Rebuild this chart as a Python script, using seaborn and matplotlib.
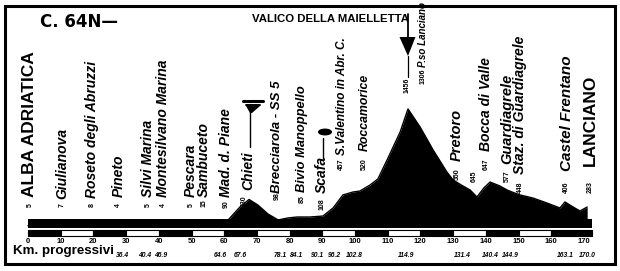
import matplotlib
matplotlib.use("Agg")
import matplotlib.pyplot as plt
import seaborn as sns
import pandas as pd
from matplotlib.patches import Circle, Polygon, Rectangle

# ---- route profile: distance (km) and altitude (m) ----
profile_km = [0, 10, 20, 28, 37, 41, 47, 54, 58, 61.2, 64.8, 67.6, 70.3, 73.4,
              76.5, 79.5, 82.3, 86.2, 90.2, 93.3, 96.3, 99.4, 101.5, 104.6, 107,
              109.8, 113.8, 116.2, 119.9, 123.9, 128.1, 130, 133, 135.2, 137.3,
              139.4, 141.3, 144.3, 146.5, 148, 150.5, 154.4, 158.7, 162.7, 164.2,
              166.7, 168.8, 171]
profile_alt = [5, 7, 8, 4, 5, 4, 5, 15, 40, 75, 236, 330, 261, 149,
               75, 100, 112, 112, 124, 224, 386, 423, 435, 510, 585,
               821, 1169, 1456, 1232, 945, 672, 572, 498, 448, 361,
               473, 547, 498, 448, 423, 386, 348, 286, 224, 299,
               236, 187, 236]

# ---- places along the route ----
place_names = ["ALBA ADRIATICA", "Giulianova", "Roseto degli Abruzzi", "Pineto",
               "Silvi Marina", "Montesilvano Marina", "Pescara", "Sambuceto",
               "Mad. d. Piane", "Chieti", "Brecciarola - SS 5", "Bivio Manoppello",
               "Scafa", "S.Valentino in Abr. C.", "Roccamorice", "P.so Lanciano",
               "Pretoro", "", "Bocca di Valle", "Guardiagrele",
               "Staz. di Guardiagrele", "Castel Frentano", "LANCIANO"]
place_alt = [5, 7, 8, 4, 5, 4, 5, 15, 90, 330, 98, 85, 108, 457, 520, 1306,
             550, 645, 647, 577, 448, 406, 283]
place_km = [0.6, 10.4, 19.6, 27.8, 36.7, 41.3, 49.8, 53.8, 60.6, 67.3, 76.1,
            83.8, 89.9, 96.0, 103.0, 120.8, 131.2, 136.4, 140.0, 146.5, 150.5,
            164.8, 171.9]

# summit
summit_name = "VALICO DELLA MAIELLETTA"
summit_km = 116.2
summit_alt = 1456

# distance scale and progressive distances
scale_km = [0, 10, 20, 30, 40, 50, 60, 70, 80, 90, 100, 110, 120, 130, 140,
            150, 160, 170]
progressive_km = [36.4, 40.4, 46.9, 64.6, 67.6, 78.1, 84.1, 90.1, 96.2, 102.8,
                  114.9, 131.4, 140.4, 144.9, 163.1, 170.0]

# ---- layout (pixel rows / columns of the drawing) ----
W, H = 620, 271
X0, PX_PER_KM = 28.0, 3.27        # x pixel of km 0, pixels per km
Y0, M_PER_PX = 226.0, 12.44       # y pixel of sea level, metres per pixel
num_base_px = [207, 207, 207, 207, 207, 207, 207, 207, 208, 207, 200, 203,
               210, 170, 170, 84, 180, 182, 170, 182, 193, 193, 193]
num_dx_px = [0, 0, 0, 0, 0, 0, 0, 0, 0, -4, 0, 0,
             0, 0, 0, 0, 0, 0, 0, 0, 0, 0, 0]
name_base_px = [197, 199, 198, 197, 197, 197, 197, 197, 197, 190, 193, 192,
                193, 155, 151, 67, 161, None, 151, 164, 174, 171, 166]
name_size = [12.5, 10, 10, 10, 10, 10, 10, 10, 10, 10, 9.5, 9.3,
             10, 8.5, 8.8, 7, 10.5, 10, 10, 10.5, 10, 11, 12.5]
progressive_x_px = [123, 145, 161, 220, 240, 280, 296, 317, 334, 354, 406,
                    462, 490, 510, 565, 587]


def alt_of(ypx):
    return (Y0 - ypx) * M_PER_PX


def km_of(xpx):
    return (xpx - X0) / PX_PER_KM


sns.set_theme(style="white")
plt.rcParams["font.family"] = ["Liberation Sans", "DejaVu Sans"]

fig = plt.figure(figsize=(W / 100, H / 100), dpi=100)
fig.patch.set_facecolor("white")
ax = fig.add_axes([0, 0, 1, 1])
ax.set_xlim(km_of(0), km_of(W))
ax.set_ylim(alt_of(H), alt_of(0))
ax.axis("off")

df = pd.DataFrame({"km": profile_km, "alt": profile_alt})

# profile silhouette
ax.fill_between(df["km"], 0, df["alt"], color="black", lw=0, zorder=2)
sns.lineplot(data=df, x="km", y="alt", color="black", lw=1.0, ax=ax, zorder=3)

# baseline bar
ax.add_patch(Rectangle((0, alt_of(228)), km_of(592), alt_of(219) - alt_of(228),
                       color="black", lw=0, zorder=3))
# chequered distance scale
sb, st = alt_of(236), alt_of(230)
for i, k in enumerate(scale_km[:-1]):
    ax.add_patch(Rectangle((k, sb), 10, st - sb,
                           facecolor="black" if i % 2 == 0 else "white",
                           edgecolor="black", lw=0.8, zorder=3))
ax.add_patch(Rectangle((170, sb), km_of(592) - 170, st - sb,
                       facecolor="black", edgecolor="black", lw=0.8, zorder=3))

for k in scale_km:
    ax.text(k, alt_of(241.5), str(k), ha="center", va="center", fontsize=5.5,
            fontweight="bold", color="black")

for v, xp in zip(progressive_km, progressive_x_px):
    ax.text(km_of(xp), alt_of(255.5), f"{v:.1f}", ha="center", va="center",
            fontsize=4.9, fontweight="bold", fontstyle="italic", color="black")

ax.text(km_of(13), alt_of(251), "Km. progressivi", ha="left", va="center",
        fontsize=9.6, fontweight="bold", color="black")

# place labels: altitude then name, reading upward
for name, alt, km, nb, dx, mb, fs in zip(place_names, place_alt, place_km,
                                         num_base_px, num_dx_px, name_base_px,
                                         name_size):
    ax.text(km + dx / PX_PER_KM, alt_of(nb), str(alt), rotation=90,
            ha="center", va="bottom", fontsize=5, fontweight="bold",
            color="black", zorder=4)
    if not name:
        continue
    big = name.isupper()
    ax.text(km, alt_of(mb), name, rotation=90, ha="center", va="bottom",
            fontsize=fs, fontweight="bold",
            fontstyle="normal" if big else "italic", color="black")

# summit arrow and name
ax.text(km_of(409), alt_of(18.5), summit_name, ha="right", va="center",
        fontsize=8.2, fontweight="bold", color="black")
ax.plot([summit_km, summit_km], [alt_of(14), alt_of(40)], color="black", lw=1.3)
ax.add_patch(Polygon([[km_of(399.5), alt_of(37)], [km_of(415.5), alt_of(37)],
                      [summit_km, alt_of(56)]], closed=True, color="black", lw=0))
ax.plot([summit_km, summit_km], [alt_of(56), alt_of(77)], color="black", lw=0.9)
ax.text(summit_km - 0.3, alt_of(93), str(summit_alt), rotation=90, ha="center",
        va="bottom", fontsize=5, fontweight="bold", color="black")

# sprint banner above Chieti
ck = km_of(250)
ax.plot([ck, ck], [alt_of(147), alt_of(104)], color="black", lw=1.0)
ax.plot([km_of(243), km_of(263)], [alt_of(100.5)] * 2, color="black", lw=2.2)
ax.plot([km_of(246), km_of(260)], [alt_of(104.5)] * 2, color="black", lw=1.4)
ax.add_patch(Polygon([[km_of(246), alt_of(106)], [km_of(260), alt_of(106)],
                      [km_of(252), alt_of(113)], [km_of(250), alt_of(113)]],
                     closed=True, color="black", lw=0))

# feeding-station mark above Scafa
sk = km_of(323)
ax.plot([sk, sk], [alt_of(158), alt_of(138)], color="black", lw=1.0)
fig.add_artist(Circle((325 / W, 1 - 132 / H), radius=6.3 / W, color="black",
                      transform=fig.transFigure))
ax.text(km_of(325), alt_of(132), "R", rotation=90, ha="center", va="center",
        fontsize=6.5, fontweight="bold", color="white", zorder=5)

# handwritten note
ax.text(km_of(40), alt_of(22), "C. 64N—", ha="left", va="center", fontsize=12,
        fontweight="bold", color="black", family="DejaVu Sans")

# frame
fig.add_artist(Rectangle((4.5 / W, 1 - 264 / H), 610 / W, 258 / H,
                         fill=False, edgecolor="black", lw=2.2,
                         transform=fig.transFigure))

fig.savefig("out.png", dpi=100, facecolor="white")
